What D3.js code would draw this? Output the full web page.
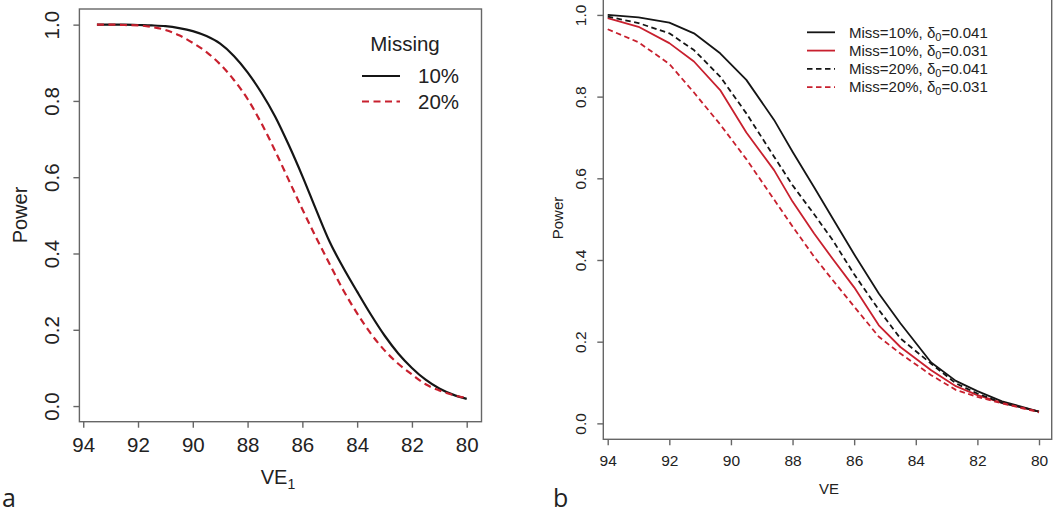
<!DOCTYPE html>
<html>
<head>
<meta charset="utf-8">
<script src="https://cdn.jsdelivr.net/npm/d3@7"></script>
<style>
  body { margin: 0; background: #fff; }
  text { font-family: 'Liberation Sans', Arial, sans-serif; fill: #222; }
  .panel-tag { font-family: 'Open Sans', sans-serif; font-size: 25px; }
</style>
</head>
<body>
<svg id="svg-main" width="1053" height="514"></svg>
<script>
//////////////////////////////////////////////////////////////////////////////////////////
// Data
//////////////////////////////////////////////////////////////////////////////////////////
var ve_a = [93.5, 93, 92.5, 92, 91.5, 91, 90.5, 90, 89.5, 89, 88.5, 88, 87.5, 87,
  86.5, 86, 85.5, 85, 84.5, 84, 83.5, 83, 82.5, 82, 81.5, 81, 80.5, 80]
var power_a_10 = [1.000, 1.000, 1.000, 0.999, 0.998, 0.996, 0.991, 0.983, 0.970, 0.950,
  0.918, 0.875, 0.822, 0.760, 0.685, 0.603, 0.515, 0.430, 0.362, 0.300, 0.240, 0.185,
  0.138, 0.100, 0.069, 0.046, 0.030, 0.019]
var power_a_20 = [1.000, 1.000, 0.999, 0.998, 0.994, 0.986, 0.972, 0.952, 0.928, 0.896,
  0.855, 0.805, 0.742, 0.670, 0.593, 0.516, 0.442, 0.372, 0.303, 0.243, 0.190, 0.146,
  0.111, 0.083, 0.057, 0.041, 0.029, 0.021]

var ve_b = [94, 93, 92, 91.2, 90.35, 89.5, 88.6, 88, 87.3, 86.7, 86, 85.2, 84.5, 83.5,
  82.7, 82, 81.2, 80]
var power_b_10_041 = [1.000, 0.994, 0.981, 0.955, 0.906, 0.841, 0.743, 0.665, 0.578, 0.502,
  0.414, 0.318, 0.245, 0.149, 0.104, 0.079, 0.054, 0.029]
var power_b_10_031 = [0.992, 0.971, 0.931, 0.886, 0.816, 0.712, 0.620, 0.543, 0.465, 0.403,
  0.333, 0.240, 0.187, 0.130, 0.091, 0.069, 0.050, 0.029]
var power_b_20_041 = [0.996, 0.980, 0.955, 0.914, 0.849, 0.759, 0.653, 0.583, 0.512, 0.449,
  0.365, 0.278, 0.208, 0.146, 0.098, 0.073, 0.050, 0.029]
var power_b_20_031 = [0.965, 0.933, 0.880, 0.810, 0.732, 0.647, 0.548, 0.482, 0.408, 0.351,
  0.286, 0.212, 0.171, 0.118, 0.082, 0.065, 0.049, 0.027]

var x_ticks = [94, 92, 90, 88, 86, 84, 82, 80]
var y_ticks = [0, 0.2, 0.4, 0.6, 0.8, 1.0]

var red = '#c8202e'
var black = '#151515'

//////////////////////////////////////////////////////////////////////////////////////////
// Panels
//////////////////////////////////////////////////////////////////////////////////////////
var svg = d3.select('#svg-main')

var panel_a = {
  'id': 'a', 'x-range': [79.4, 481.5], 'y-range': [421.7, 9],
  'x-domain': [94.14, 79.46], 'y-domain': [-0.041, 1.041],
  'font': 20.5, 'tick-len': 6, 'x-label-y': 452, 'y-label-x': 59,
  'lwd': 2.2, 'dash': '7,4.5', 'curve': d3.curveMonotoneX
}
var panel_b = {
  'id': 'b', 'x-range': [603.3, 1051.7], 'y-range': [439.3, -1],
  'x-domain': [94.143, 79.588], 'y-domain': [-0.039, 1.039],
  'font': 15.5, 'tick-len': 6, 'x-label-y': 466, 'y-label-x': 586,
  'lwd': 1.8, 'dash': '5.5,3.5', 'curve': d3.curveLinear
}

draw_panel(panel_a, [
  { 've': ve_a, 'power': power_a_10, 'color': black, 'dashed': false },
  { 've': ve_a, 'power': power_a_20, 'color': red, 'dashed': true }
])
draw_panel(panel_b, [
  { 've': ve_b, 'power': power_b_10_041, 'color': black, 'dashed': false },
  { 've': ve_b, 'power': power_b_10_031, 'color': red, 'dashed': false },
  { 've': ve_b, 'power': power_b_20_041, 'color': black, 'dashed': true },
  { 've': ve_b, 'power': power_b_20_031, 'color': red, 'dashed': true }
])

function draw_panel(p, series) {
  var g = svg.append('g').attr('id', 'g-panel-' + p['id'])
  var x = d3.scaleLinear().domain(p['x-domain']).range(p['x-range'])
  var y = d3.scaleLinear().domain(p['y-domain']).range(p['y-range'])

  // curves
  var line = d3.line()
    .curve(p['curve'])
    .x(function(d) { return x(d[0]) })
    .y(function(d) { return y(d[1]) })

  series.forEach(function(s) {
    g.append('path')
      .datum(d3.zip(s['ve'], s['power']))
      .attr('d', line)
      .attr('fill', 'none')
      .attr('stroke', s['color'])
      .attr('stroke-width', p['lwd'])
      .attr('stroke-dasharray', s['dashed'] ? p['dash'] : null)
      .attr('stroke-linejoin', 'round')
  })

  // box
  g.append('rect')
    .attr('x', p['x-range'][0])
    .attr('y', p['y-range'][1])
    .attr('width', p['x-range'][1] - p['x-range'][0])
    .attr('height', p['y-range'][0] - p['y-range'][1])
    .attr('fill', 'none')
    .attr('stroke', '#666')
    .attr('stroke-width', 1.4)

  // x axis
  var x_axis = g.append('g')
    .attr('transform', 'translate(0,' + p['y-range'][0] + ')')
    .call(d3.axisBottom(x).tickValues(x_ticks).tickSize(p['tick-len']).tickFormat(d3.format('d')))
  x_axis.select('.domain').remove()
  x_axis.selectAll('line').attr('stroke', '#666').attr('stroke-width', 1.4)
  x_axis.selectAll('text')
    .attr('dy', null)
    .attr('y', p['x-label-y'] - p['y-range'][0])
    .attr('font-size', p['font'])
    .attr('font-family', null)
    .style('fill', '#222')

  // y axis, R style rotated labels
  var y_axis = g.append('g')
    .attr('transform', 'translate(' + p['x-range'][0] + ',0)')
    .call(d3.axisLeft(y).tickValues(y_ticks).tickSize(p['tick-len']).tickFormat(d3.format('.1f')))
  y_axis.select('.domain').remove()
  y_axis.selectAll('line').attr('stroke', '#666').attr('stroke-width', 1.4)
  y_axis.selectAll('text')
    .attr('x', null).attr('dy', null)
    .attr('text-anchor', 'middle')
    .attr('transform', 'translate(' + (p['y-label-x'] - p['x-range'][0]) + ',0) rotate(-90)')
    .attr('font-size', p['font'])
    .attr('font-family', null)
    .style('fill', '#222')
}

//////////////////////////////////////////////////////////////////////////////////////////
// Titles
//////////////////////////////////////////////////////////////////////////////////////////
svg.append('text')
  .attr('transform', 'translate(27,215) rotate(-90)')
  .attr('text-anchor', 'middle')
  .attr('font-size', 20)
  .text('Power')

var ve1 = svg.append('text')
  .attr('x', 278).attr('y', 484)
  .attr('text-anchor', 'middle')
  .attr('font-size', 20)
ve1.append('tspan').text('VE')
ve1.append('tspan').attr('font-size', 14).attr('dy', 5).text('1')

svg.append('text')
  .attr('transform', 'translate(563,218) rotate(-90)')
  .attr('text-anchor', 'middle')
  .attr('font-size', 15)
  .text('Power')

svg.append('text')
  .attr('x', 829).attr('y', 494)
  .attr('text-anchor', 'middle')
  .attr('font-size', 15)
  .text('VE')

svg.append('text').attr('class', 'panel-tag').attr('x', 2).attr('y', 507).text('a')
svg.append('text').attr('class', 'panel-tag').attr('x', 553).attr('y', 507).text('b')

//////////////////////////////////////////////////////////////////////////////////////////
// Legends
//////////////////////////////////////////////////////////////////////////////////////////
var legend_a = [
  { 'label': '10%', 'color': black, 'dashed': false },
  { 'label': '20%', 'color': red, 'dashed': true }
]

var g_leg_a = svg.append('g').attr('id', 'g-legend-a')
g_leg_a.append('text')
  .attr('x', 405).attr('y', 51)
  .attr('text-anchor', 'middle')
  .attr('font-size', 20.5)
  .text('Missing')

g_leg_a.selectAll('.leg-line')
  .data(legend_a)
  .enter()
  .append('line')
  .attr('x1', 362).attr('x2', 400)
  .attr('y1', function(d, i) { return 76 + i * 25.5 })
  .attr('y2', function(d, i) { return 76 + i * 25.5 })
  .attr('stroke', function(d) { return d['color'] })
  .attr('stroke-width', 2.2)
  .attr('stroke-dasharray', function(d) { return d['dashed'] ? '7,4.5' : null })

g_leg_a.selectAll('.leg-text')
  .data(legend_a)
  .enter()
  .append('text')
  .attr('x', 418)
  .attr('y', function(d, i) { return 83 + i * 25.5 })
  .attr('font-size', 20.5)
  .text(function(d) { return d['label'] })

var legend_b = [
  { 'miss': '10%', 'delta': '0.041', 'color': black, 'dashed': false },
  { 'miss': '10%', 'delta': '0.031', 'color': red, 'dashed': false },
  { 'miss': '20%', 'delta': '0.041', 'color': black, 'dashed': true },
  { 'miss': '20%', 'delta': '0.031', 'color': red, 'dashed': true }
]

var g_leg_b = svg.append('g').attr('id', 'g-legend-b')
g_leg_b.selectAll('.leg-line')
  .data(legend_b)
  .enter()
  .append('line')
  .attr('x1', 807).attr('x2', 835)
  .attr('y1', function(d, i) { return 32.3 + i * 18.3 })
  .attr('y2', function(d, i) { return 32.3 + i * 18.3 })
  .attr('stroke', function(d) { return d['color'] })
  .attr('stroke-width', 1.8)
  .attr('stroke-dasharray', function(d) { return d['dashed'] ? '5.5,3.5' : null })

g_leg_b.selectAll('.leg-text')
  .data(legend_b)
  .enter()
  .append('text')
  .attr('x', 849)
  .attr('y', function(d, i) { return 37.5 + i * 18.3 })
  .attr('font-size', 15)
  .each(function(d) {
    var t = d3.select(this)
    t.append('tspan').text('Miss=' + d['miss'] + ', \u03b4')
    t.append('tspan').attr('font-size', 11).attr('dy', 3).text('0')
    t.append('tspan').attr('dy', -3).text('=' + d['delta'])
  })
</script>
</body>
</html>
